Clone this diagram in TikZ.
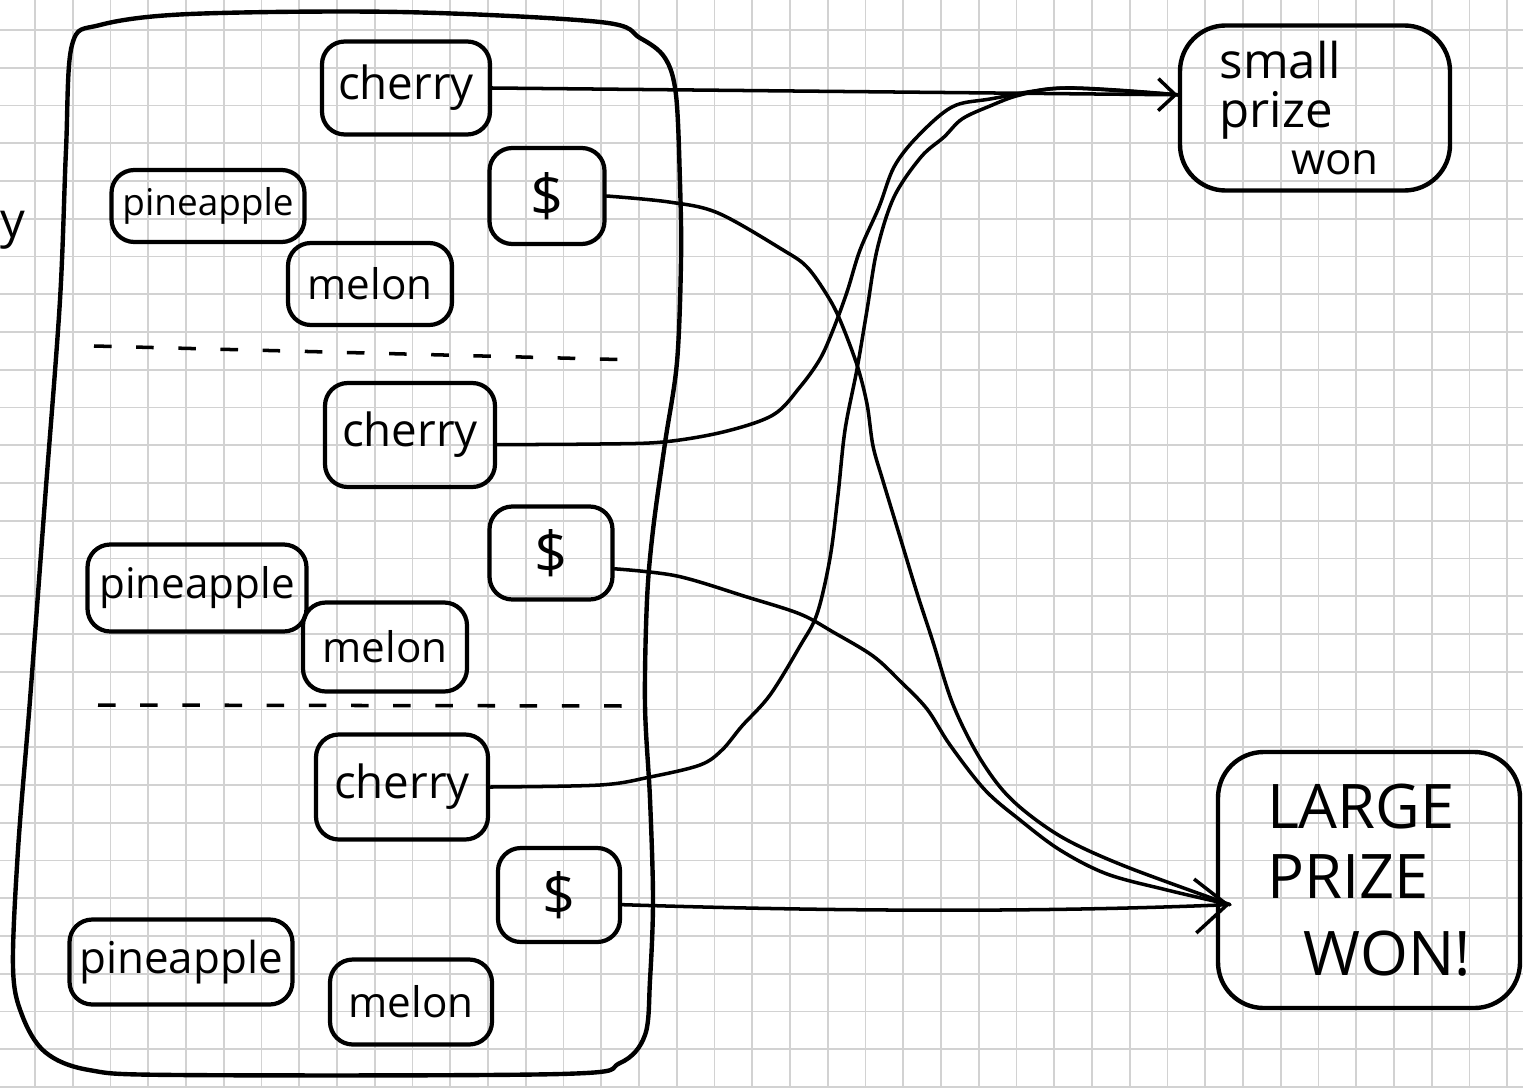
\documentclass[tikz,border=0pt]{standalone}
\usepackage{fontspec}
\setmainfont{Open Sans}
\usetikzlibrary{arrows.meta}
\definecolor{gridgray}{RGB}{210,210,210}
\begin{document}
\begin{tikzpicture}[x=0.02cm,y=-0.02cm,
  gridline/.style={draw=gridgray,line width=1.1pt},
  tag/.style={draw,line width=2.4pt,rounded corners=13pt,inner sep=0pt},
  prizebox/.style={draw,line width=2.5pt,rounded corners=26pt,inner sep=0pt,align=left},
  sz/.style 2 args={minimum width=#1*0.02cm,minimum height=#2*0.02cm},
  fs/.style={font=\fontsize{#1}{#1}\selectfont},
  link/.style={line width=2pt,line cap=round,line join=round},
  sep/.style={line width=2pt,dash pattern=on 10pt off 14pt},
  smallhead/.style={-{Straight Barb[length=0.34cm,width=0.64cm]}},
  largehead/.style={-{Straight Barb[length=0.64cm,width=1.08cm]}}]

% paper with grid
\fill[white] (0,0) rectangle (1523,1088);
\useasboundingbox (0,0) rectangle (1523,1088);
\foreach \i in {0,...,40} {\draw[gridline] ({35+37.75*\i},0) -- ({35+37.75*\i},1088);}
\foreach \j in {0,...,28} {\draw[gridline] (0,{30+37.75*\j}) -- (1523,{30+37.75*\j});}

% fragment of a word at the left edge
\node[fs=28,inner sep=0pt] (frag) at (13,230) {y};

% the reel: outer frame
\draw[line width=2.5pt,line join=round] plot[smooth cycle,tension=0.55] coordinates {
  (72,45) (100,25) (190,14) (400,12) (600,22) (640,38) (665,58) (676,95)
  (680,183) (681,260) (677,362) (665,443) (653,530) (647,600) (645,705)
  (650,799) (653,900) (650,980) (645,1035) (620,1063) (560,1074) (179,1075)
  (89,1070) (45,1052) (22,1015) (13,967) (18,850) (30,700) (45,500)
  (60,300) (66,150)};

% separators between the three columns
\draw[sep] (94,346) -- (638,360);
\draw[sep] (98,705) -- (630,706);

% symbols, first group
\node[tag,sz={168}{93},fs=26] (c1) at (406,88) {cherry};
\node[tag,sz={115}{96},fs=33] (d1) at (547,196) {\$};
\node[tag,sz={193}{72},fs=21] (p1) at (208,206) {pineapple};
\node[tag,sz={164}{82},fs=24] (m1) at (370,284) {melon};

% symbols, second group
\node[tag,sz={170}{104},fs=26] (c2) at (410,435) {cherry};
\node[tag,sz={123}{93},fs=33] (d2) at (551,553) {\$};
\node[tag,sz={219}{87},fs=24] (p2) at (197,588) {pineapple};
\node[tag,sz={164}{89},fs=24] (m2) at (385,647) {melon};

% symbols, third group
\node[tag,sz={172}{105},fs=26] (c3) at (402,787) {cherry};
\node[tag,sz={122}{94},fs=33] (d3) at (559,895) {\$};
\node[tag,sz={223}{85},fs=25] (p3) at (181,962) {pineapple};
\node[tag,sz={162}{85},fs=24] (m3) at (411,1002) {melon};

% outcomes
\node[prizebox,sz={270}{165},font=\fontsize{28}{28}\selectfont] (sp) at (1315,108)
  {small\\prize\\[-1pt]\hspace*{1.45em}{\fontsize{25}{25}\selectfont won}\hspace*{18pt}};
\node[prizebox,sz={302}{256},font=\fontsize{35}{40}\selectfont] (lp) at (1369,880)
  {LARGE\\PRIZE\\[4pt]\hspace*{0.6em}WON!};

% cherries lead to the small prize
\draw[link,smallhead] (c1.east) -- ([yshift=7.5pt]sp.west);
\draw[link] plot[smooth,tension=0.55] coordinates {
  ([yshift=-5.5pt]c2.east) (600,444) (663,442) (723,432) (773,415) (800,387)
  (820,359) (833,330) (847,292) (860,250) (879,207) (894,167) (917,137)
  (952,107) (990,99) (1066,88) ([yshift=7.5pt]sp.west)};
\draw[link] plot[smooth,tension=0.55] coordinates {
  (c3.east) (600,785) (650,777) (700,765) (722,750) (742,726) (770,695)
  (800,646) (817,614) (830,558) (838,495) (845,430) (857,369) (867,310)
  (877,250) (894,197) (921,157) (944,137) (962,119) (990,106) (1020,95)
  (1066,88) ([yshift=7.5pt]sp.west)};

% dollars lead to the large prize
\draw[link] plot[smooth,tension=0.55] coordinates {
  (d1.east) (669,202) (718,213) (783,250) (807,267) (827,295) (840,320)
  (857,365) (867,404) (873,446) (883,481) (900,537) (917,593) (933,642)
  (952,702) (975,750) (1000,787) (1027,813) (1067,840) (1127,867)
  ([xshift=8pt,yshift=-14pt]lp.west)};
\draw[link] plot[smooth,tension=0.55] coordinates {
  ([yshift=-9pt]d2.east) (677,576) (747,597) (800,614) (833,632) (873,656)
  (900,681) (927,709) (950,745) (985,790) (1020,820) (1060,850) (1107,874)
  (1167,890) ([xshift=8pt,yshift=-14pt]lp.west)};
\draw[link,largehead] ([yshift=-5.5pt]d3.east) .. controls (850,912) and (1050,912)
  .. ([xshift=8pt,yshift=-14pt]lp.west);

\end{tikzpicture}
\end{document}
